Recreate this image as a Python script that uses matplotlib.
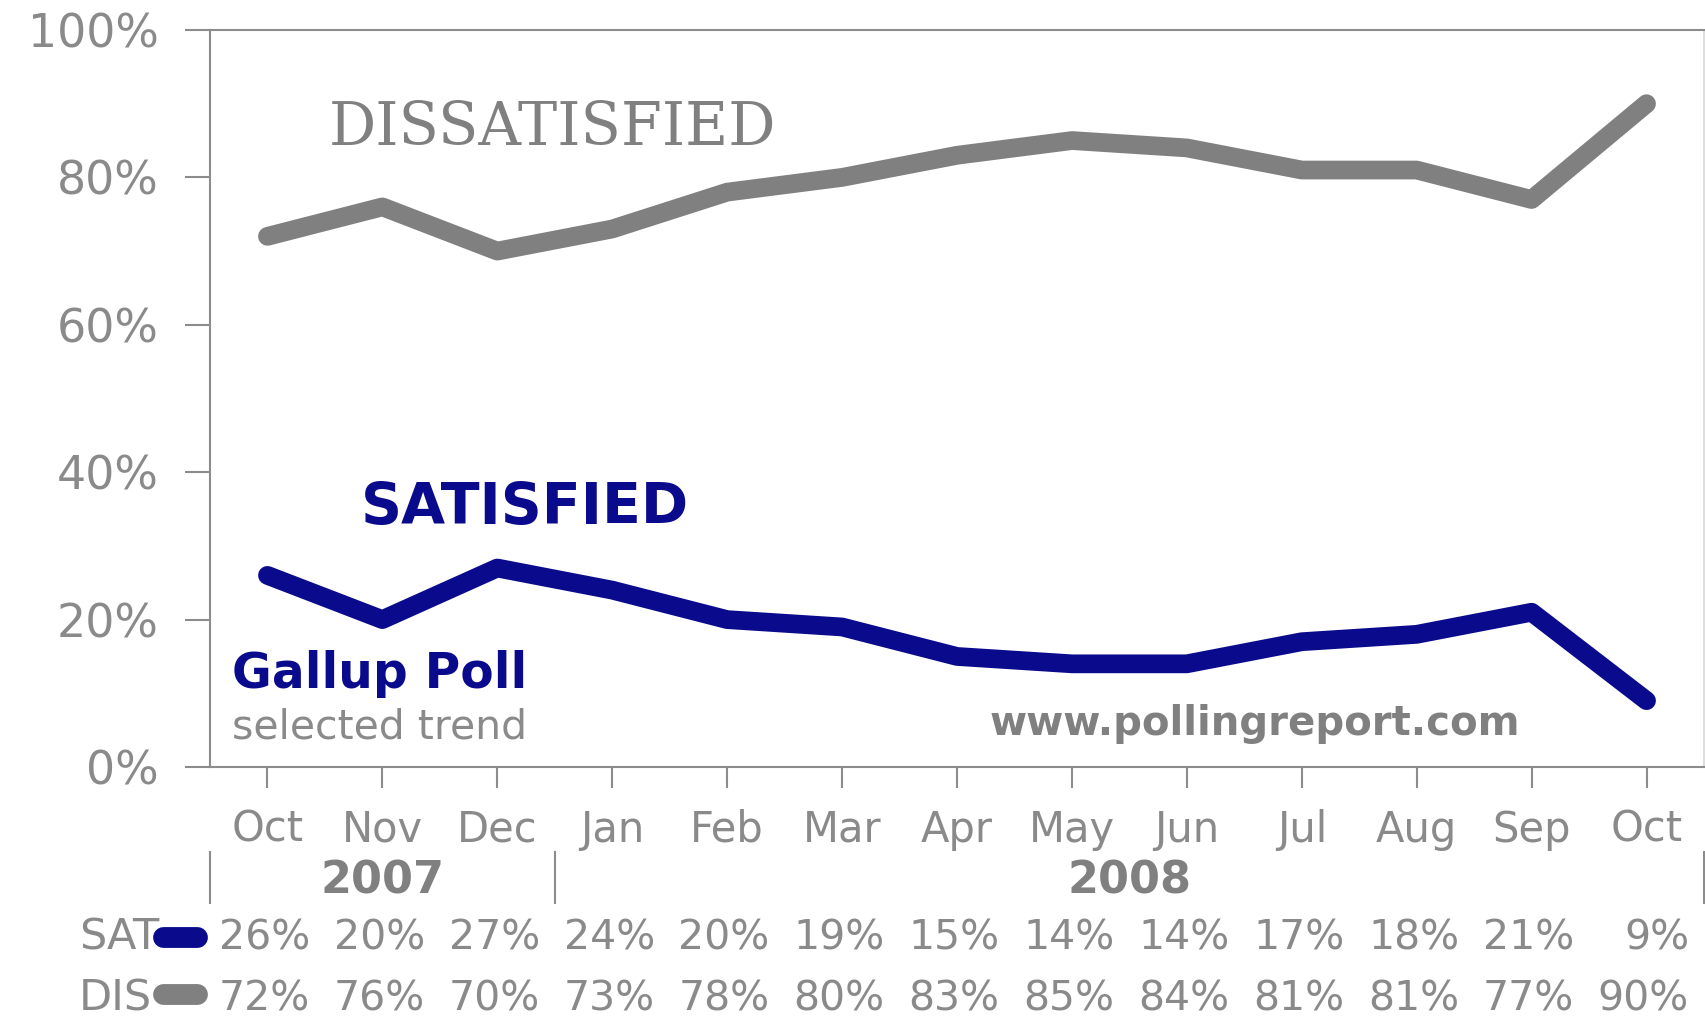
import matplotlib
matplotlib.use("Agg")
import matplotlib.pyplot as plt
from matplotlib.transforms import blended_transform_factory

# Gallup: satisfied / dissatisfied with the way things are going in the U.S.
months = ["Oct", "Nov", "Dec", "Jan", "Feb", "Mar", "Apr", "May", "Jun", "Jul", "Aug", "Sep", "Oct"]
satisfied = [26, 20, 27, 24, 20, 19, 15, 14, 14, 17, 18, 21, 9]
dissatisfied = [72, 76, 70, 73, 78, 80, 83, 85, 84, 81, 81, 77, 90]
years = ["2007", "2008"]
year_spans = [(-0.5, 2.5), (2.5, 12.5)]
y_ticks = [0, 20, 40, 60, 80, 100]

NAVY = "#0a0a8c"
GRAY = "#808080"
TXT = "#8a8a8a"
AXIS = "#8c8c8c"

plt.rcParams["font.family"] = ["DejaVu Sans"]

fig = plt.figure(figsize=(17.05, 10.16), dpi=100)
ax = fig.add_axes([210 / 1705, 249 / 1016, 1494 / 1705, 737 / 1016])

x = list(range(len(months)))
ax.plot(x, dissatisfied, color=GRAY, lw=13.5, solid_capstyle="round", solid_joinstyle="round")
ax.plot(x, satisfied, color=NAVY, lw=13.5, solid_capstyle="round", solid_joinstyle="round")

ax.set_xlim(-0.5, 12.5)
ax.set_ylim(0, 100)
ax.set_yticks(y_ticks, [f"{v}%" for v in y_ticks])
ax.set_xticks(x, months)
ax.tick_params(axis="y", length=18, width=1.5, color=AXIS, pad=19, labelsize=33, labelcolor=TXT)
ax.tick_params(axis="x", length=15, width=1.5, color=AXIS, pad=15, labelsize=30, labelcolor=TXT)
for side in ["left", "top", "bottom"]:
    ax.spines[side].set_color(AXIS)
    ax.spines[side].set_linewidth(1.5)
ax.spines["right"].set_color("#d8d8d8")
ax.spines["right"].set_linewidth(1.2)

# labels inside the plot
ax.text(0.53, 84.4, "DISSATISFIED", family="DejaVu Serif", fontsize=42.5, color=GRAY, va="baseline")
ax.text(0.81, 33.0, "SATISFIED", fontsize=41, fontweight="bold", color=NAVY, va="baseline")
ax.text(-0.31, 10.7, "Gallup Poll", fontsize=35, fontweight="bold", color=NAVY, va="baseline")
ax.text(-0.31, 3.9, "selected trend", fontsize=29.5, color=TXT, va="baseline")
ax.text(6.28, 4.3, "www.pollingreport.com", fontsize=29, fontweight="bold", color=GRAY, va="baseline")

# year row and data table below the axis
tr = blended_transform_factory(ax.transData, ax.transAxes)
for yr, (a, b) in zip(years, year_spans):
    ax.text((a + b) / 2, -0.171, yr, transform=tr, ha="center", va="baseline",
            fontsize=32, fontweight="bold", color=GRAY)
for sep in [-0.5, 2.5, 12.5]:
    ax.plot([sep, sep], [-0.115, -0.185], transform=tr, color=AXIS, lw=1.5, clip_on=False)

rows = [("SAT", satisfied, NAVY, -0.248, -0.230), ("DIS", dissatisfied, GRAY, -0.330, -0.308)]
for name, vals, col, base, mid in rows:
    ax.text(-1.64, base, name, transform=tr, ha="left", va="baseline", fontsize=31, color=TXT)
    ax.plot([-0.905, -0.61], [mid, mid], transform=tr, color=col, lw=15,
            solid_capstyle="round", clip_on=False, zorder=5)
    for xi, v in zip(x, vals):
        ax.text(xi + 0.37, base, f"{v}%", transform=tr, ha="right", va="baseline",
                fontsize=29.5, color=TXT)

fig.savefig("out.png", dpi=100, facecolor="white")
